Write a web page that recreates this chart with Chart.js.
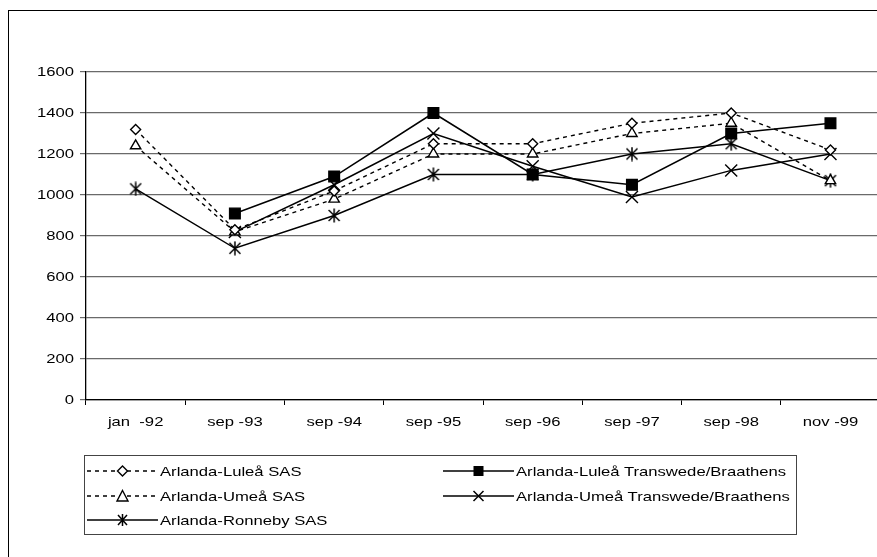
<!DOCTYPE html>
<html>
<head>
<meta charset="utf-8">
<script src="https://cdn.jsdelivr.net/npm/chart.js@4.4.1/dist/chart.umd.min.js"></script>
<style>
  html, body { margin: 0; padding: 0; background: #fff; overflow: hidden; }
  #wrap { position: relative; width: 877px; height: 557px; overflow: hidden; }
  #chart { position: absolute; left: 0; top: 0; }
  .legend {
    position: absolute; left: 84px; top: 455px; width: 713px; height: 80px;
    border: 1px solid #444; box-sizing: border-box;
    font: 13px "Liberation Sans", Arial, sans-serif; color: #000;
  }
  .item { position: absolute; height: 16px; display: flex; align-items: center; }
  .item svg { flex: none; }
  .item span { display: inline-block; white-space: pre; transform: scaleX(1.28); transform-origin: left center; margin-left: 2px; }
</style>
</head>
<body>
<div id="wrap">
  <canvas id="chart" width="890" height="557"></canvas>
  <div class="legend" id="legend"></div>
</div>
<script>
const periods = ['jan  -92', 'sep -93', 'sep -94', 'sep -95', 'sep -96', 'sep -97', 'sep -98', 'nov -99'];

const luleaSas = [1320, 830, 1020, 1250, 1250, 1350, 1400, 1220];
const luleaTb = [null, 910, 1090, 1400, 1100, 1050, 1300, 1350];
const umeaSas = [1240, 820, 980, 1200, 1200, 1300, 1350, 1070];
const umeaTb = [null, 820, 1050, 1300, 1140, 990, 1120, 1200];
const ronnebySas = [1030, 740, 900, 1100, 1100, 1200, 1250, 1070];

const seriesNames = [
  'Arlanda-Luleå SAS',
  'Arlanda-Luleå Transwede/Braathens',
  'Arlanda-Umeå SAS',
  'Arlanda-Umeå Transwede/Braathens',
  'Arlanda-Ronneby SAS'
];

// the source picture has its text squeezed wider than plain Arial
const TEXT_STRETCH = 1.28;

// X with a vertical stroke, like the old spreadsheet "star" marker
const starMarker = document.createElement('canvas');
starMarker.width = 14;
starMarker.height = 15;
{
  const c = starMarker.getContext('2d');
  c.strokeStyle = '#000';
  c.lineWidth = 1.5;
  c.beginPath();
  c.moveTo(1.5, 2); c.lineTo(12.5, 13);
  c.moveTo(12.5, 2); c.lineTo(1.5, 13);
  c.moveTo(7, 0.5); c.lineTo(7, 14.5);
  c.stroke();
}

function dataset(label, data, dashed, style, radius, fill) {
  return {
    label: label,
    data: data,
    borderColor: '#000',
    borderWidth: dashed ? 1.4 : 1.5,
    borderDash: dashed ? [4, 4] : [],
    pointStyle: style,
    pointRadius: radius,
    pointBorderWidth: 1.4,
    pointBorderColor: '#000',
    pointBackgroundColor: fill,
    tension: 0,
    fill: false
  };
}

const canvas = document.getElementById('chart');
const ctx = canvas.getContext('2d');
const plainFillText = ctx.fillText;
ctx.fillText = function (text, x, y) {
  this.save();
  this.translate(x, y);
  this.scale(TEXT_STRETCH, 1);
  plainFillText.call(this, text, 0, 0);
  this.restore();
};

const outerBorder = {
  id: 'outerBorder',
  beforeDraw(chart) {
    const c = chart.ctx;
    c.save();
    c.fillStyle = '#fff';
    c.fillRect(0, 0, chart.width, chart.height);
    c.strokeStyle = '#000';
    c.lineWidth = 1;
    c.strokeRect(8.5, 10.5, 1500, 1500);
    c.restore();
  }
};

const font = { family: '"Liberation Sans", Arial, sans-serif', size: 13 };

new Chart(ctx, {
  type: 'line',
  data: {
    labels: periods,
    datasets: [
      dataset(seriesNames[0], luleaSas, true, 'rectRot', 5, '#fff'),
      dataset(seriesNames[1], luleaTb, false, 'rect', 7.5, '#000'),
      dataset(seriesNames[2], umeaSas, true, 'triangle', 6, '#fff'),
      dataset(seriesNames[3], umeaTb, false, 'crossRot', 8.5, '#000'),
      dataset(seriesNames[4], ronnebySas, false, starMarker, 7, '#000')
    ]
  },
  options: {
    responsive: false,
    animation: false,
    devicePixelRatio: 1,
    layout: { padding: { left: 0, top: 72, right: 6, bottom: 117 } },
    plugins: {
      legend: { display: false },
      tooltip: { enabled: false }
    },
    scales: {
      x: {
        offset: true,
        grid: { offset: true, drawOnChartArea: false, drawTicks: true, tickLength: 5, color: '#000' },
        border: { color: '#000', width: 1.3 },
        ticks: { color: '#000', font: font, padding: 10, maxRotation: 0, autoSkip: false },
        afterFit(scale) { scale.height = 40; }
      },
      y: {
        min: 0,
        max: 1600,
        grid: { color: '#6a6a6a', lineWidth: 1.2, tickLength: 6 },
        border: { color: '#000', width: 1.3 },
        ticks: { stepSize: 200, color: '#000', font: font, padding: 6, callback: v => String(v) },
        afterFit(scale) { scale.width = 86; }
      }
    }
  },
  plugins: [outerBorder]
});

// legend, drawn as html so the names stay real text
const markerSvg = {
  rectRot: '<polygon points="35.5,2 40.5,7 35.5,12 30.5,7" fill="#fff" stroke="#000" stroke-width="1.4"/>',
  rect: '<rect x="30.5" y="2" width="10" height="10" fill="#000"/>',
  triangle: '<polygon points="35.5,1.5 41,12 30,12" fill="#fff" stroke="#000" stroke-width="1.4"/>',
  crossRot: '<path d="M30.5 2 L40.5 12 M40.5 2 L30.5 12" stroke="#000" stroke-width="1.5"/>',
  star: '<path d="M31 2 L40 12 M40 2 L31 12 M35.5 1 L35.5 13" stroke="#000" stroke-width="1.5"/>'
};
const legendItems = [
  { name: seriesNames[0], marker: 'rectRot', dashed: true, left: 2, top: 7 },
  { name: seriesNames[1], marker: 'rect', dashed: false, left: 358, top: 7 },
  { name: seriesNames[2], marker: 'triangle', dashed: true, left: 2, top: 32 },
  { name: seriesNames[3], marker: 'crossRot', dashed: false, left: 358, top: 32 },
  { name: seriesNames[4], marker: 'star', dashed: false, left: 2, top: 56 }
];
const legend = document.getElementById('legend');
legendItems.forEach(item => {
  const div = document.createElement('div');
  div.className = 'item';
  div.style.left = item.left + 'px';
  div.style.top = item.top + 'px';
  const dash = item.dashed ? ' stroke-dasharray="4 4"' : '';
  div.innerHTML =
    '<svg width="71" height="14" viewBox="0 0 71 14">' +
    '<line x1="0" y1="7" x2="71" y2="7" stroke="#000" stroke-width="1.5"' + dash + '/>' +
    markerSvg[item.marker] + '</svg><span></span>';
  div.querySelector('span').textContent = item.name;
  legend.appendChild(div);
});
</script>
</body>
</html>
